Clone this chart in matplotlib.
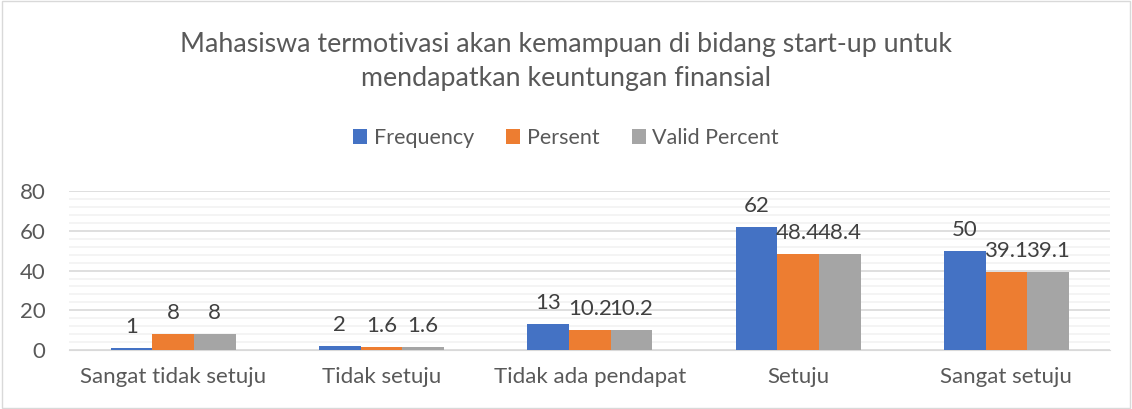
import numpy as np
import matplotlib.pyplot as plt
from matplotlib.patches import Rectangle

categories = ["Sangat tidak setuju", "Tidak setuju", "Tidak ada pendapat", "Setuju", "Sangat setuju"]
frequency = [1, 2, 13, 62, 50]
persent = [8, 1.6, 10.2, 48.4, 39.1]
valid_percent = [8, 1.6, 10.2, 48.4, 39.1]

series = [("Frequency", frequency, "#4472C4"),
          ("Persent", persent, "#ED7D31"),
          ("Valid Percent", valid_percent, "#A5A5A5")]

plt.rcParams['font.family'] = ['Lato', 'DejaVu Sans']
txt = "#595959"

fig = plt.figure(figsize=(11.32, 4.09), dpi=100)
ax = fig.add_axes([0.061, 0.144, 0.920, 0.389])

x = np.arange(len(categories))
w = 0.2
for i, (name, vals, col) in enumerate(series):
    pos = x + (i - 1) * w
    ax.bar(pos, vals, w, color=col, label=name, zorder=3)
    for p, v in zip(pos, vals):
        ax.annotate("%g" % v, (p, v), xytext=(0, 8), textcoords="offset points",
                    ha="center", va="bottom", fontsize=16, color="#404040")

ax.set_xlim(-0.5, len(categories) - 0.5)
ax.set_ylim(0, 80)
ax.set_yticks(np.arange(0, 81, 20))
ax.set_yticks(np.arange(0, 81, 4), minor=True)
ax.grid(axis="y", which="major", color="#D9D9D9", lw=1.2, zorder=0)
ax.grid(axis="y", which="minor", color="#F2F2F2", lw=1.2, zorder=0)
ax.set_xticks(x)
ax.set_xticklabels(categories)
ax.tick_params(axis="both", which="both", length=0, labelsize=16, colors=txt)
ax.tick_params(axis="y", pad=17)
ax.tick_params(axis="x", pad=12)
for s in ["top", "right", "left"]:
    ax.spines[s].set_visible(False)
ax.spines["bottom"].set_color("#D9D9D9")

fig.text(0.5, 0.85, "Mahasiswa termotivasi akan kemampuan di bidang start-up untuk\nmendapatkan keuntungan finansial",
         ha="center", va="center", fontsize=19.3, color=txt, linespacing=1.42)
fig.legend(loc="center", bbox_to_anchor=(0.5, 0.662), ncol=3, frameon=False,
           fontsize=15.5, labelcolor=txt, handlelength=0.65, handleheight=0.65,
           handletextpad=0.3, columnspacing=1.5)

fig.patches.append(Rectangle((0.002, 0.003), 0.996, 0.994, transform=fig.transFigure,
                             fill=False, edgecolor="#D9D9D9", lw=1))

fig.savefig("out.png", dpi=100)
